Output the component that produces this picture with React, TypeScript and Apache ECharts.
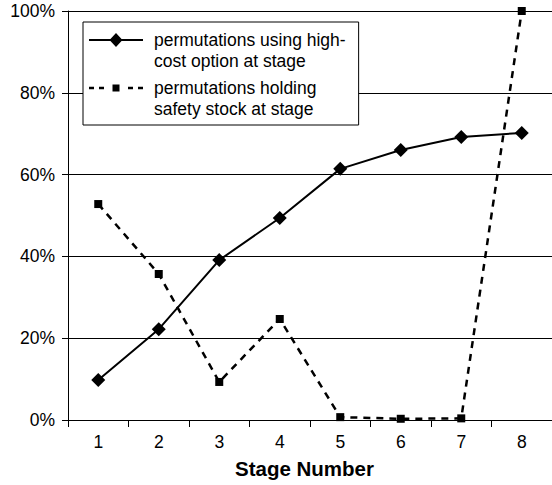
import React, { useEffect, useRef } from "react";
import * as echarts from "echarts";

const stages = ["1", "2", "3", "4", "5", "6", "7", "8"];
const highCostName = "permutations using high-\ncost option at stage";
const safetyName = "permutations holding\nsafety stock at stage";
const highCost = [9.8, 22.2, 39.1, 49.4, 61.4, 66.0, 69.2, 70.2];
const safety = [52.8, 35.7, 9.3, 24.7, 0.7, 0.3, 0.4, 100];
const yTicks = { min: 0, max: 100, interval: 20 };

const FONT = "'Liberation Sans', Arial, Helvetica, sans-serif";

const diamondIcon =
  "path://M0,6 L21.43,6 L27,0 L32.57,6 L54,6 L54,8 L32.57,8 L27,14 L21.43,8 L0,8 Z";
const squareIcon =
  "path://M0,2.25h5v2.5h-5z M10,2.25h5v2.5h-5z M23.5,0h7v7h-7z M39,2.25h5v2.5h-5z M49,2.25h5v2.5h-5z";

export default function App() {
  const ref = useRef<HTMLDivElement>(null);
  useEffect(() => {
    if (!ref.current) return;
    const chart = echarts.init(ref.current, null, { renderer: "svg" });
    chart.setOption({
      animation: false,
      backgroundColor: "#fff",
      grid: { left: 68, right: -4, top: 11, bottom: 65, containLabel: false },
      legend: {
        left: 83,
        top: 22,
        orient: "vertical",
        itemWidth: 54,
        itemHeight: 17,
        itemGap: -15,
        padding: [-13.5, 13, 5.5, 6],
        borderColor: "#000",
        borderWidth: 1,
        backgroundColor: "#fff",
        selectedMode: false,
        itemStyle: { borderWidth: 0 },
        formatter: (name: string) => "\n" + name,
        textStyle: {
          fontSize: 17.5,
          lineHeight: 21,
          padding: [0, 0, 0, 6],
          color: "#000",
          fontFamily: FONT,
        },
        data: [
          { name: highCostName, icon: diamondIcon },
          { name: safetyName, icon: squareIcon },
        ],
      },
      xAxis: {
        type: "category",
        data: stages,
        boundaryGap: true,
        axisLine: { show: true, lineStyle: { color: "#000", width: 1 } },
        axisTick: { show: true, length: 7, lineStyle: { color: "#000" } },
        axisLabel: { color: "#000", fontSize: 17.5, fontFamily: FONT, margin: 13 },
        splitLine: { show: false },
        name: "Stage Number",
        nameLocation: "middle",
        nameGap: 37.5,
        nameTextStyle: {
          color: "#000",
          fontSize: 20.5,
          fontWeight: "bold",
          fontFamily: FONT,
          padding: [0, 11, 0, 0],
        },
      },
      yAxis: {
        type: "value",
        min: yTicks.min,
        max: yTicks.max,
        interval: yTicks.interval,
        axisLine: { show: true, lineStyle: { color: "#000", width: 1 } },
        axisTick: { show: true, length: 6, lineStyle: { color: "#000" } },
        axisLabel: {
          color: "#000",
          fontSize: 17.5,
          fontFamily: FONT,
          margin: 13,
          formatter: "{value}%",
        },
        splitLine: { show: true, lineStyle: { color: "#000", width: 1 } },
      },
      series: [
        {
          name: highCostName,
          type: "line",
          data: highCost,
          symbol: "diamond",
          symbolSize: 14,
          clip: false,
          lineStyle: { color: "#000", width: 2 },
          itemStyle: { color: "#000", borderWidth: 0 },
          z: 3,
        },
        {
          name: safetyName,
          type: "line",
          data: safety,
          symbol: "rect",
          symbolSize: 8,
          clip: false,
          lineStyle: { color: "#000", width: 2.5, type: [7, 6] },
          itemStyle: { color: "#000", borderWidth: 0 },
          z: 2,
        },
      ],
    });
    return () => chart.dispose();
  }, []);
  return (
    <div
      ref={ref}
      style={{ position: "absolute", left: 0, top: 0, width: 552, height: 485 }}
    />
  );
}
